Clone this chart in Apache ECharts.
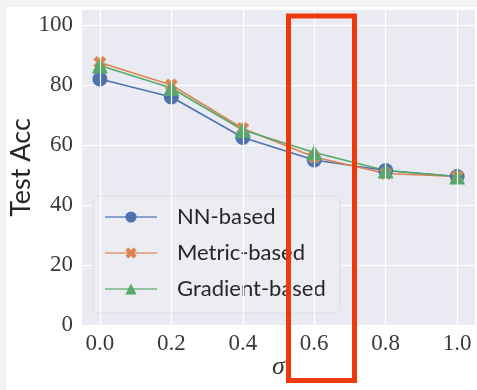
<!DOCTYPE html>
<html><head><meta charset="utf-8">
<script src="https://cdn.jsdelivr.net/npm/echarts@6/dist/echarts.min.js"></script>
<style>html,body{margin:0;padding:0;background:#f3f3f3;}#c{width:477px;height:390px;}</style>
</head><body><div id="c"></div>
<script>
var sigma = [0.0, 0.2, 0.4, 0.6, 0.8, 1.0];
var xTicks = [0.0, 0.2, 0.4, 0.6, 0.8, 1.0];
var nnBased = [82, 76, 62.5, 55, 51.5, 49.5];
var metricBased = [87.5, 80, 65.5, 56, 50.5, 49.5];
var gradientBased = [86.5, 79, 65, 57.5, 51.5, 49.5];
var seriesNames = ['NN-based', 'Metric-based', 'Gradient-based'];
var colors = ['#4C72B0', '#DD8452', '#55A868'];

var xPath = 'path://M2.6,0 L5,2.4 L7.4,0 L10,2.6 L7.6,5 L10,7.4 L7.4,10 L5,7.6 L2.6,10 L0,7.4 L2.4,5 L0,2.6 Z';
function pairs(ys){ return sigma.map(function(x,i){ return [x, ys[i]]; }); }

var chart = echarts.init(document.getElementById('c'), null, {renderer:'canvas'});
var mk = function(name, ys, color, symbol, size){
  return {
    name: name, type: 'line', data: pairs(ys), symbol: symbol, symbolSize: size,
    clip: false, z: 3,
    lineStyle: {color: color, width: 1.6},
    itemStyle: {color: color, borderWidth: 0},
    emphasis: {disabled: true}
  };
};
chart.setOption({
  backgroundColor: '#f3f3f3',
  animation: false,
  graphic: [
    {type:'rect', z:-100, shape:{x:6, y:7, width:471, height:383}, style:{fill:'#ffffff'}},
    {type:'rect', z:100, shape:{x:288.5, y:16, width:66, height:364.5}, style:{fill:'none', stroke:'#EE3A0A', lineWidth:5}}
  ],
  grid: {left: 82, right: 2, top: 10, bottom: 65, show: true, backgroundColor: '#EAEAF2', borderWidth: 0,
    outerBoundsMode: 'none', containLabel: false},
  xAxis: {
    type: 'value', min: -0.05, max: 1.05,
    axisLine: {show:false}, axisTick: {show:false}, splitLine: {show:false},
    axisLabel: {customValues: xTicks, formatter: function(v){ return v.toFixed(1); },
      fontFamily: 'Liberation Serif', fontSize: 23, color: '#3a3a3a', margin: 7},
    name: 'σ', nameLocation: 'middle', nameGap: 29, nameMoveOverlap: false,
    nameTextStyle: {fontFamily: 'Liberation Serif', fontStyle: 'italic', fontSize: 26, color: '#333'}
  },
  yAxis: {
    type: 'value', min: 0, max: 105, interval: 20,
    axisLine: {show:false}, axisTick: {show:false},
    splitLine: {show:true, showMaxLine:false, lineStyle:{color:'#ffffff', width:1.2}},
    axisLabel: {showMaxLabel:false, fontFamily: 'Liberation Serif', fontSize: 23, color: '#3a3a3a', margin: 9},
    name: 'Test Acc', nameLocation: 'middle', nameGap: 47, nameMoveOverlap: false,
    nameTextStyle: {fontFamily: 'Lato', fontSize: 27, color: '#262626'}
  },
  legend: {
    data: seriesNames, orient: 'vertical', left: 93, top: 196,
    backgroundColor: '#ececf3', borderColor: '#dcdce4', borderWidth: 1, borderRadius: 5,
    padding: [10, 14, 13, 11], itemGap: 14, itemWidth: 52, itemHeight: 14,
    textStyle: {fontFamily: 'Lato', fontSize: 22, color: '#262626', lineHeight: 22, padding: [0,0,0,15]},
    lineStyle: {opacity: 0.6}
  },
  series: [
    {type:'line', data: [], z: 1, silent: true,
      markLine: {silent: true, symbol: 'none', label: {show:false},
        lineStyle: {color:'#ffffff', width:1.2, type:'solid'},
        data: xTicks.map(function(v){ return {xAxis: v}; })}},
    mk(seriesNames[0], nnBased, colors[0], 'circle', 15),
    mk(seriesNames[1], metricBased, colors[1], xPath, 13),
    mk(seriesNames[2], gradientBased, colors[2], 'triangle', 16)
  ]
});
</script></body></html>
